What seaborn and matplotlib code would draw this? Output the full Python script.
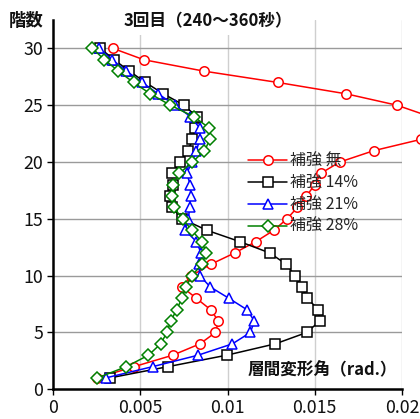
import matplotlib
matplotlib.use("Agg")
import matplotlib.pyplot as plt
import seaborn as sns
import pandas as pd

sns.set_theme(style="white")
plt.rcParams["font.family"] = ["Noto Sans CJK JP", "DejaVu Sans"]

# Storey numbers (1 = ground floor, 30 = top)
floors = list(range(1, 31))

# Inter-storey drift angle (rad.) per floor, 3rd run (240-360 s)
drift_none = [0.00252, 0.00466, 0.00686, 0.00842, 0.00931, 0.00948, 0.00904, 0.00822,
              0.00741, 0.00793, 0.00904, 0.01041, 0.01163, 0.01266, 0.01341, 0.01400,
              0.01452, 0.01500, 0.01534, 0.01643, 0.01838, 0.02110, 0.02180, 0.02160,
              0.01971, 0.01681, 0.01290, 0.00865, 0.00521, 0.00344]
drift_14 = [0.00325, 0.00661, 0.00995, 0.01274, 0.01454, 0.01528, 0.01521, 0.01458,
            0.01425, 0.01387, 0.01337, 0.01242, 0.01070, 0.00881, 0.00741, 0.00680,
            0.00673, 0.00688, 0.00682, 0.00728, 0.00774, 0.00799, 0.00815, 0.00823,
            0.00751, 0.00633, 0.00530, 0.00438, 0.00350, 0.00272]
drift_21 = [0.00302, 0.00573, 0.00831, 0.01028, 0.01131, 0.01154, 0.01112, 0.01009,
            0.00902, 0.00841, 0.00837, 0.00848, 0.00822, 0.00756, 0.00776, 0.00783,
            0.00789, 0.00787, 0.00766, 0.00797, 0.00822, 0.00841, 0.00841, 0.00787,
            0.00701, 0.00602, 0.00512, 0.00421, 0.00340, 0.00264]
drift_28 = [0.00254, 0.00421, 0.00547, 0.00617, 0.00653, 0.00674, 0.00709, 0.00738,
            0.00762, 0.00795, 0.00854, 0.00879, 0.00852, 0.00795, 0.00743, 0.00692,
            0.00680, 0.00688, 0.00724, 0.00799, 0.00868, 0.00900, 0.00895, 0.00806,
            0.00673, 0.00558, 0.00462, 0.00375, 0.00295, 0.00226]

series_labels = ["補強 無", "補強 14%", "補強 21%", "補強 28%"]
series_values = [drift_none, drift_14, drift_21, drift_28]
series_colors = ["#FF0000", "#000000", "#0000FF", "#008000"]
series_markers = ["o", "s", "^", "D"]
series_msize = [6.8, 6.8, 6.8, 6.0]

x_ticks = [0, 0.005, 0.01, 0.015, 0.02]
x_ticklabels = ["0", "0.005", "0.01", "0.015", "0.02"]
y_ticks = [0, 5, 10, 15, 20, 25, 30]

fig = plt.figure(figsize=(4.2, 4.19), dpi=100)
W, H = 420, 419
ax = fig.add_axes([53 / W, 1 - 389.3 / H, (402 - 53) / W, (389.3 - 20) / H])

for lab, vals, col, mk, ms in zip(series_labels, series_values, series_colors,
                                  series_markers, series_msize):
    df = pd.DataFrame({"drift": vals, "floor": floors})
    sns.lineplot(data=df, x="drift", y="floor", sort=False, estimator=None,
                 color=col, marker=mk, markersize=ms, markerfacecolor="white",
                 markeredgecolor=col, markeredgewidth=1.1, linewidth=1.1,
                 label=lab, clip_on=False, ax=ax, zorder=3)

ax.set_xlim(0, 0.02)
ax.set_ylim(0, 32.5)
ax.set_xticks(x_ticks)
ax.set_xticklabels(x_ticklabels)
ax.set_yticks(y_ticks)
ax.set_xlabel("")
ax.set_ylabel("")

# Gridlines: darker horizontal, lighter vertical
for y in y_ticks[1:]:
    ax.axhline(y, color="#9a9a9a", linewidth=1.0, zorder=1)
for x in x_ticks[1:]:
    ax.axvline(x, color="#cfcfcf", linewidth=1.0, zorder=0.5)

for s in ["top", "right"]:
    ax.spines[s].set_visible(False)
for s in ["left", "bottom"]:
    ax.spines[s].set_color("black")
    ax.spines[s].set_linewidth(1.8)
    ax.spines[s].set_zorder(4)

ax.tick_params(axis="both", which="both", direction="out", length=4, width=1,
               color="black", labelsize=12.8, labelcolor="#111111", pad=3)
ax.tick_params(axis="y", left=True)
ax.tick_params(axis="x", bottom=True)

leg = ax.legend(loc="center left", bbox_to_anchor=(248 / W, 1 - 194 / H),
                bbox_transform=fig.transFigure, frameon=False, fontsize=11.5,
                handlelength=2.45, handletextpad=0.2, labelspacing=0.3,
                borderpad=0, borderaxespad=0)
leg.set_zorder(5)

fig.text(208 / W, 1 - 21 / H, "3回目（240～360秒）", ha="center", va="center",
         fontsize=12, fontweight="bold", color="#111111",
         bbox=dict(facecolor="white", edgecolor="none", pad=3.5), zorder=6)
fig.text(26 / W, 1 - 21 / H, "階数", ha="center", va="center",
         fontsize=12.5, fontweight="bold", color="#111111")
fig.text(322 / W, 1 - 370 / H, "層間変形角（rad.）", ha="center", va="center",
         fontsize=12, fontweight="bold", color="#111111")

fig.savefig("out.png", dpi=100)
